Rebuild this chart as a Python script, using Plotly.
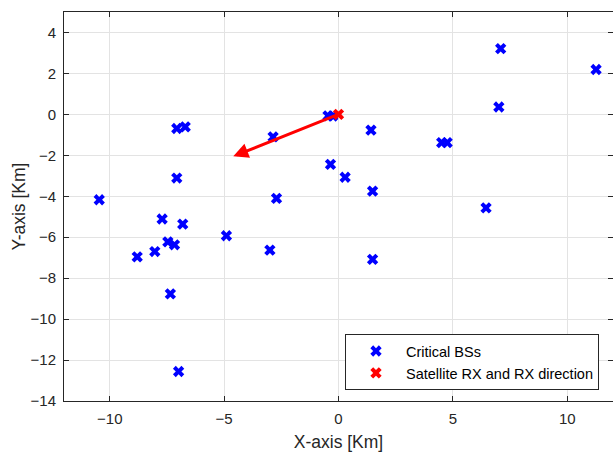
import plotly.graph_objects as go

# Critical base-station positions [km]
bs_x = [-10.46, -8.80, -8.03, -7.71, -7.46, -7.17, -7.35, -6.99, -7.07, -6.70,
        -7.07, -6.81, -4.90, -3.00, -2.86, -2.71, -0.46, -0.25, -0.35, 0.29,
        1.42, 1.49, 1.49, 4.51, 4.75, 6.45, 7.09, 7.01, 11.26]
bs_y = [-4.17, -6.96, -6.70, -5.11, -6.23, -6.37, -8.77, -12.56, -0.69, -0.61,
        -3.11, -5.36, -5.93, -6.63, -1.10, -4.10, -0.07, -0.08, -2.44, -3.07,
        -0.77, -3.75, -7.08, -1.38, -1.38, -4.57, 3.21, 0.36, 2.19]

# Satellite RX position and RX direction vector [km]
sat_x = [0.0]
sat_y = [0.0]
dir_u = [-4.6]
dir_v = [-2.05]

font = "Liberation Sans, Arial, Helvetica, sans-serif"
txt = "#262626"

fig = go.Figure()
fig.add_trace(go.Scatter(
    x=bs_x, y=bs_y, mode="markers", name="Critical BSs",
    marker=dict(symbol="x", size=10, color="#0000ff", line=dict(width=0))))
fig.add_trace(go.Scatter(
    x=sat_x, y=sat_y, mode="markers", name="Satellite RX and RX direction",
    marker=dict(symbol="x", size=10, color="#ff0000", line=dict(width=0))))

fig.add_annotation(
    x=sat_x[0] + dir_u[0], y=sat_y[0] + dir_v[0],
    ax=sat_x[0], ay=sat_y[0], xref="x", yref="y", axref="x", ayref="y",
    showarrow=True, arrowhead=2, arrowsize=1.0, arrowwidth=3,
    arrowcolor="#ff0000", text="")

axis_common = dict(
    showgrid=True, gridcolor="#e3e3e3", gridwidth=1,
    showline=True, linecolor="#262626", linewidth=1, mirror="allticks",
    ticks="inside", ticklen=5, tickcolor="#262626",
    zeroline=False, automargin=False,
    tickfont=dict(family=font, size=15, color=txt),
)

fig.update_xaxes(range=[-12, 12], tickvals=[-10, -5, 0, 5, 10],
                 title=dict(text="X-axis [Km]", font=dict(family=font, size=17.5, color=txt), standoff=13),
                 ticklabelstandoff=4,
                 **axis_common)
fig.update_yaxes(range=[-14, 5], tickvals=list(range(-14, 5, 2)),
                 title=dict(text="Y-axis [Km]", font=dict(family=font, size=17.5, color=txt), standoff=0),
                 ticklabelstandoff=4,
                 **axis_common)

fig.update_layout(
    width=613, height=452,
    margin=dict(l=64, r=0, t=12, b=51, autoexpand=False),
    paper_bgcolor="white", plot_bgcolor="white",
    font=dict(family=font, color=txt),
    showlegend=True,
    legend=dict(x=0.9745, y=0.028, xanchor="right", yanchor="bottom",
                bgcolor="white", bordercolor="#262626", borderwidth=1,
                font=dict(family=font, size=14.5, color="#000000"),
                itemwidth=50, tracegroupgap=0),
)

fig.write_html("out.html", config={"displayModeBar": False},
               post_script="document.body.style.margin='0';document.body.style.overflow='hidden';")
